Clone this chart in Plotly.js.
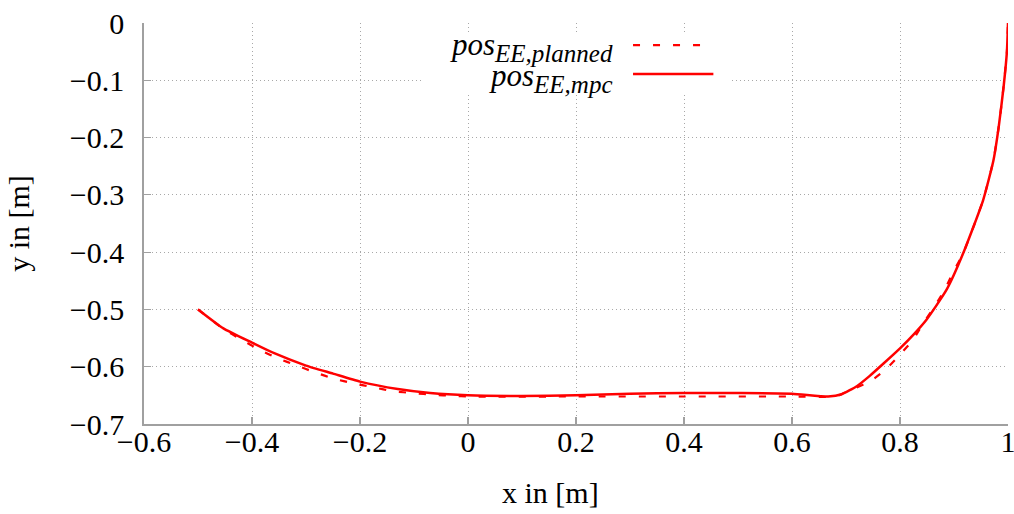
<!DOCTYPE html>
<html>
<head>
<meta charset="utf-8">
<script src="https://cdn.plot.ly/plotly-3.0.1.min.js"></script>
<style>html,body{margin:0;padding:0;background:#fff;}#chart{width:1014px;height:514px;}</style>
</head>
<body>
<div id="chart"></div>
<script>
// pos_EE,mpc (solid)
var mpcX = [-0.5, -0.453, -0.40, -0.36, -0.30, -0.25, -0.20, -0.13, -0.07, 0.0, 0.1, 0.2, 0.3, 0.4, 0.5, 0.6, 0.667, 0.692, 0.72, 0.744, 0.77, 0.80, 0.825, 0.849, 0.886, 0.917, 0.954, 0.973, 0.983, 0.992, 0.998, 1.0];
var mpcY = [-0.50, -0.533, -0.558, -0.576, -0.598, -0.612, -0.626, -0.639, -0.646, -0.650, -0.651, -0.650, -0.647, -0.646, -0.646, -0.647, -0.652, -0.648, -0.634, -0.616, -0.594, -0.568, -0.544, -0.518, -0.466, -0.402, -0.309, -0.240, -0.180, -0.110, -0.050, 0.0];
// pos_EE,planned (dashed)
var planX = [-0.5, -0.453, -0.419, -0.385, -0.353, -0.317, -0.283, -0.248, -0.212, -0.175, -0.138, -0.101, -0.064, -0.027, 0.0, 0.2, 0.4, 0.6, 0.68, 0.71, 0.744, 0.772, 0.80, 0.825, 0.843, 0.864, 0.883, 0.899, 0.917, 0.954, 0.973, 0.983, 0.992, 0.998, 1.0];
var planY = [-0.50, -0.534, -0.553, -0.571, -0.585, -0.598, -0.610, -0.621, -0.629, -0.636, -0.643, -0.646, -0.649, -0.651, -0.652, -0.652, -0.652, -0.652, -0.652, -0.640, -0.626, -0.606, -0.579, -0.552, -0.524, -0.495, -0.465, -0.434, -0.402, -0.309, -0.240, -0.180, -0.110, -0.050, 0.0];
var xTicks = [-0.6, -0.4, -0.2, 0, 0.2, 0.4, 0.6, 0.8, 1];
var xTickText = ["\u22120.6", "\u22120.4", "\u22120.2", "0", "0.2", "0.4", "0.6", "0.8", "1"];
var yTicks = [0, -0.1, -0.2, -0.3, -0.4, -0.5, -0.6, -0.7];
var yTickText = ["0", "\u22120.1", "\u22120.2", "\u22120.3", "\u22120.4", "\u22120.5", "\u22120.6", "\u22120.7"];
var labelPlanned = "<i>pos</i><sub><i><span style='font-size:25px'>EE,planned</span></i></sub>";
var labelMpc = "<i>pos</i><sub><i><span style='font-size:25px'>EE,mpc</span></i></sub>";
var xTitle = "x in [m]";
var yTitle = "y in [m]";

var serif = "Liberation Serif, Times New Roman, serif";
var red = "#ff0000";
var fs = 30;

var traces = [
  {x: planX, y: planY, type: "scatter", mode: "lines", name: "pos EE,planned",
   line: {color: red, width: 2.2, dash: "7px,13px", shape: "spline", smoothing: 0.5}, showlegend: false},
  {x: mpcX, y: mpcY, type: "scatter", mode: "lines", name: "pos EE,mpc",
   line: {color: red, width: 2.5, shape: "spline", smoothing: 0.5}, showlegend: false}
];

var axisCommon = {
  showline: true, linecolor: "#a0a0a0", linewidth: 1.8,
  ticks: "inside", ticklen: 7, tickcolor: "#a0a0a0", tickwidth: 1.2,
  showgrid: true, gridcolor: "#a8a8a8", gridwidth: 1, griddash: "1px,3px",
  zeroline: false, ticklabeloverflow: "allow",
  tickfont: {family: serif, size: fs, color: "#000"}
};

var layout = {
  width: 1014, height: 514,
  margin: {l: 144, r: 6, t: 23, b: 90, pad: 0},
  paper_bgcolor: "#fff", plot_bgcolor: "#fff",
  showlegend: false,
  xaxis: Object.assign({}, axisCommon, {
    range: [-0.6, 1], tickmode: "array", tickvals: xTicks, ticktext: xTickText,
    ticklabelstandoff: -10
  }),
  yaxis: Object.assign({}, axisCommon, {
    range: [-0.7, 0], tickmode: "array", tickvals: yTicks, ticktext: yTickText,
    ticklabelstandoff: 12,
    title: {text: yTitle, font: {family: serif, size: fs, color: "#000"}, standoff: 31}
  }),
  shapes: [
    {type: "rect", xref: "paper", yref: "paper", x0: 0.322, x1: 0.678, y0: 0.822, y1: 0.975,
     fillcolor: "#fff", line: {width: 0}, layer: "above"},
    {type: "line", xref: "paper", yref: "paper", x0: 0.566, x1: 0.658, y0: 0.945, y1: 0.945,
     line: {color: red, width: 2.2, dash: "7px,13px"}},
    {type: "line", xref: "paper", yref: "paper", x0: 0.566, x1: 0.659, y0: 0.873, y1: 0.873,
     line: {color: red, width: 2.5}}
  ],
  annotations: [
    {text: labelPlanned, xref: "paper", yref: "paper", x: 0.545, y: 0.940,
     xanchor: "right", yanchor: "middle", showarrow: false,
     font: {family: serif, size: 31, color: "#000"}},
    {text: labelMpc, xref: "paper", yref: "paper", x: 0.545, y: 0.862,
     xanchor: "right", yanchor: "middle", showarrow: false,
     font: {family: serif, size: 31, color: "#000"}},
    {text: xTitle, xref: "paper", yref: "paper", x: 0.47, y: 0, yshift: -68,
     xanchor: "center", yanchor: "middle", showarrow: false,
     font: {family: serif, size: fs, color: "#000"}}
  ]
};

Plotly.newPlot("chart", traces, layout, {displayModeBar: false, staticPlot: true});
</script>
</body>
</html>
